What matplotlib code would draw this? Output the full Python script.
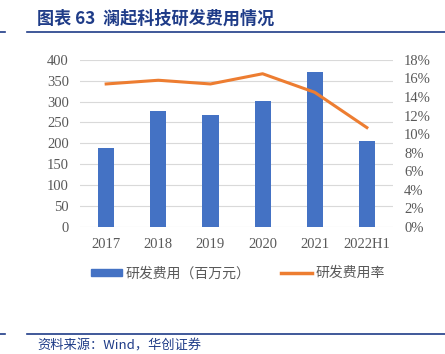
import matplotlib.pyplot as plt
import numpy as np
from matplotlib.lines import Line2D
from matplotlib.patches import Patch

plt.rcParams['font.family'] = ['Liberation Serif', 'Noto Sans CJK SC', 'DejaVu Sans']

# data
years = ['2017', '2018', '2019', '2020', '2021', '2022H1']
rd_cost = [189, 278, 268, 302, 371, 206]          # 百万元
rd_ratio = [15.4, 15.8, 15.4, 16.5, 14.5, 10.7]   # %

blue = '#4472C4'
orange = '#ED7D31'
grey = '#595959'
navy = '#1F3C88'

fig = plt.figure(figsize=(4.45, 3.54), dpi=100)
ax = fig.add_axes([0.18, 0.359, 0.703, 0.472])
x = np.arange(len(years))
ax.bar(x, rd_cost, width=0.31, color=blue, zorder=2)
ax.set_ylim(0, 400)
ax.set_yticks(np.arange(0, 401, 50))
ax.set_xlim(-0.5, len(years) - 0.5)
ax.set_xticks(x)
ax.set_xticklabels(years)
ax.grid(axis='y', color='#D9D9D9', linewidth=0.8, zorder=0)
for s in ax.spines.values():
    s.set_visible(False)
ax.tick_params(axis='y', length=0, labelsize=10.5, colors=grey, pad=8)
ax.tick_params(axis='x', length=0, labelsize=10.5, colors=grey, pad=8)

ax2 = ax.twinx()
ax2.plot(x, rd_ratio, color=orange, linewidth=2.2, zorder=3)
ax2.set_ylim(0, 18)
ax2.set_yticks(np.arange(0, 19, 2))
ax2.set_yticklabels([f'{v}%' for v in range(0, 19, 2)])
for s in ax2.spines.values():
    s.set_visible(False)
ax2.tick_params(length=0, labelsize=10.5, colors=grey, pad=8)

# legend
handles = [Patch(color=blue), Line2D([0], [0], color=orange, linewidth=2.5)]
labels = ['研发费用（百万元）', '研发费用率']
fig.legend(handles, labels, loc='center', bbox_to_anchor=(0.535, 0.228), ncol=2,
           frameon=False, labelcolor=grey, handlelength=2.2,
           handleheight=0.45, columnspacing=2.2, handletextpad=0.3,
           prop={'family': ['Noto Sans CJK SC'], 'size': 10})

# title and rules
fig.text(0.083, 0.948, '图表 63  澜起科技研发费用情况', fontsize=12.3, fontweight='bold',
         color=navy, va='center', family=['Noto Sans CJK SC'])
fig.add_artist(Line2D([0.061, 1.0], [0.909, 0.909], color=navy, linewidth=1.2))
fig.add_artist(Line2D([0.0, 0.012], [0.909, 0.909], color=navy, linewidth=1.2))
fig.add_artist(Line2D([0.061, 1.0], [0.057, 0.057], color=navy, linewidth=1.2))
fig.add_artist(Line2D([0.0, 0.012], [0.057, 0.057], color=navy, linewidth=1.2))
fig.text(0.085, 0.022, '资料来源：Wind，华创证券', fontsize=9.5, style='italic',
         color=navy, va='center', family=['Noto Sans CJK SC', 'Liberation Serif'])

fig.savefig('out.png', dpi=100)
